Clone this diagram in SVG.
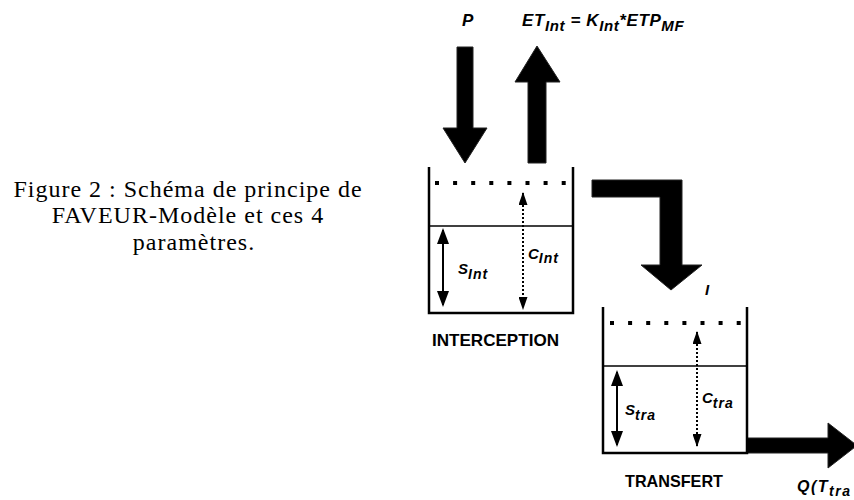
<svg xmlns="http://www.w3.org/2000/svg" width="854" height="500" viewBox="0 0 854 500">
  <style>
    .cap { font-family: "Liberation Serif", "Times New Roman", serif; font-size: 24px; letter-spacing: 1px; fill: #000; }
    .lbl { font-family: "Liberation Sans", Arial, sans-serif; font-weight: bold; font-style: italic; font-size: 15px; fill: #000; }
    .top { font-size: 17px; letter-spacing: 0.6px; }
    .sub { font-size: 14px; letter-spacing: 1px; }
    .sub15 { font-size: 15px; }
    .name { font-family: "Liberation Sans", Arial, sans-serif; font-weight: bold; font-size: 16.5px; fill: #000; }
    .wall { fill: none; stroke: #000; stroke-width: 2.5; }
    .mid { stroke: #000; stroke-width: 1.6; }
    .dots { stroke: #000; stroke-width: 4; stroke-dasharray: 4 14.1; }
    .block { fill: #000; stroke: #222; stroke-width: 1; }
    .solid { stroke: #000; stroke-width: 2; marker-start: url(#headS); marker-end: url(#headS); }
    .dotted { stroke: #000; stroke-width: 2; stroke-dasharray: 2 2; marker-start: url(#headC); marker-end: url(#headC); }
  </style>
  <defs>
    <marker id="headS" viewBox="0 0 16 12" refX="14" refY="6" markerWidth="16" markerHeight="12" markerUnits="userSpaceOnUse" orient="auto-start-reverse">
      <path d="M0,0 L16,6 L0,12 z" fill="#000"/>
    </marker>
    <marker id="headC" viewBox="0 0 13 9" refX="12" refY="4.5" markerWidth="13" markerHeight="9" markerUnits="userSpaceOnUse" orient="auto-start-reverse">
      <path d="M0,0 L13,4.5 L0,9 z" fill="#000"/>
    </marker>
  </defs>

  <!-- caption -->
  <g id="caption" text-anchor="middle">
    <text class="cap" x="188" y="197">Figure 2 : Schéma de principe de</text>
    <text class="cap" x="188" y="223">FAVEUR-Modèle et ces 4</text>
    <text class="cap" x="194" y="250">paramètres.</text>
  </g>

  <!-- flux arrows -->
  <g id="connectors">
    <polygon id="flux-P" class="block" points="457,47 473,47 473,128 487,128 465,163 443,128 457,128"/>
    <polygon id="flux-ET" class="block" points="528,163 546,163 546,82 560,82 537,46 515,82 528,82"/>
    <polygon id="flux-I" class="block" points="592,180 682,180 682,265 702,265 671,290 641,265 660,265 660,197 592,197"/>
    <polygon id="flux-Q" class="block" points="747,438 828,438 828,423 857,445.5 828,468 828,453 747,453"/>
  </g>

  <!-- flux labels -->
  <g id="labels">
    <text class="lbl top" x="462" y="26">P</text>
    <text class="lbl top" x="522" y="26">ET<tspan class="sub15" dy="5">Int</tspan><tspan dy="-5"> = K</tspan><tspan class="sub15" dy="5">Int</tspan><tspan dy="-5">*ETP</tspan><tspan class="sub15" dy="5">MF</tspan></text>
    <text class="lbl" x="705" y="295">I</text>
    <text class="lbl" x="797" y="492" style="font-size:16px;letter-spacing:1.5px">Q(T<tspan class="sub" dy="4" style="letter-spacing:1.5px">tra</tspan></text>
  </g>

  <!-- interception reservoir -->
  <g id="interception">
    <path class="wall" d="M429,167 V313 H573 V167"/>
    <line class="mid" x1="429" y1="226" x2="573" y2="226"/>
    <line class="dots" x1="435" y1="183" x2="570" y2="183"/>
    <line class="solid" x1="443" y1="230" x2="443" y2="305"/>
    <line class="dotted" x1="523" y1="193" x2="523" y2="309"/>
    <text class="lbl" x="458" y="274">S<tspan class="sub" dy="5">Int</tspan></text>
    <text class="lbl" x="528" y="259">C<tspan class="sub" dy="4">Int</tspan></text>
    <text class="name" x="432" y="346" textLength="127" lengthAdjust="spacingAndGlyphs">INTERCEPTION</text>
  </g>

  <!-- transfer reservoir -->
  <g id="transfert">
    <path class="wall" d="M603,307 V453 H747 V307"/>
    <line class="mid" x1="603" y1="366" x2="747" y2="366"/>
    <line class="dots" x1="610" y1="323" x2="745" y2="323"/>
    <line class="solid" x1="617" y1="372" x2="617" y2="445"/>
    <line class="dotted" x1="697" y1="332" x2="697" y2="446"/>
    <text class="lbl" x="625" y="415">S<tspan class="sub" dy="5">tra</tspan></text>
    <text class="lbl" x="702" y="403">C<tspan class="sub" dy="5">tra</tspan></text>
    <text class="name" x="625" y="487" textLength="98" lengthAdjust="spacingAndGlyphs">TRANSFERT</text>
  </g>
</svg>
